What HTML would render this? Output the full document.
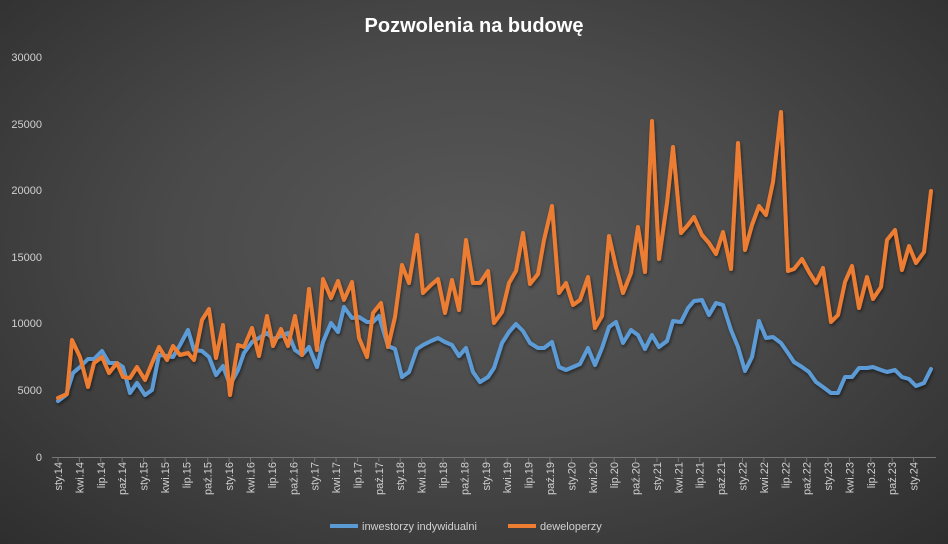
<!DOCTYPE html>
<html><head><meta charset="utf-8"><style>
body{margin:0;}
#c{width:948px;height:544px;position:relative;overflow:hidden;background:radial-gradient(ellipse at 50% 45%,#585858 0%,#4a4a4a 45%,#2e2e2e 100%);font-family:"Liberation Sans",sans-serif;}
</style></head><body><div id="c">
<svg width="948" height="544" xmlns="http://www.w3.org/2000/svg">
<defs><filter id="sh" x="-5%" y="-5%" width="110%" height="110%"><feDropShadow dx="1" dy="2" stdDeviation="1.5" flood-color="#000" flood-opacity="0.5"/></filter></defs>
<text x="474" y="32" fill="#fff" font-size="20" font-weight="bold" text-anchor="middle" font-family="Liberation Sans, sans-serif">Pozwolenia na budowę</text>
<g fill="#d0d0d0" font-size="11" text-anchor="end" font-family="Liberation Sans, sans-serif">
<text x="42" y="61">30000</text><text x="42" y="128">25000</text><text x="42" y="194">20000</text><text x="42" y="261">15000</text><text x="42" y="327">10000</text><text x="42" y="394">5000</text><text x="42" y="461">0</text>
</g>
<line x1="52" y1="457.5" x2="936" y2="457.5" stroke="#777" stroke-width="1"/>
<g id="ticks" stroke="#777"></g>
<g id="xl" fill="#d0d0d0" font-size="11" font-family="Liberation Sans, sans-serif"></g>
<g filter="url(#sh)" fill="none" stroke-width="4" stroke-linejoin="round" stroke-linecap="round">
<polyline stroke="#5b9bd5" points="58,401 66,395 73,373 80,367 88,359 94,359 102,351 109,363 117,363 123,367 130,393 137,383 145,395 152,390 159,355 167,356 173,357 180,345 188,330 194,350 202,351 209,357 216,375 223,366 230,385 238,370 244,353 252,342 259,338 267,333 273,339 281,336 288,333 295,350 302,355 309,347 317,367 323,342 331,323 338,332 344,307 352,318 359,317 367,322 373,322 379,316 388,346 395,349 402,377 409,372 417,349 423,345 431,341 438,338 445,342 452,345 459,356 466,348 473,372 480,382 488,377 494,368 502,343 509,332 516,324 523,331 530,343 538,348 544,348 552,342 559,367 566,370 573,367 580,364 588,348 595,365 602,348 609,327 616,322 623,343 631,330 638,335 645,349 652,335 659,347 667,341 673,321 681,322 688,308 694,301 702,300 709,315 716,303 723,305 731,330 738,347 745,371 752,357 759,321 766,338 773,337 781,343 788,353 794,362 802,367 809,372 816,382 823,387 831,393 838,393 845,377 852,377 859,368 867,368 873,367 881,370 887,372 895,370 902,377 909,379 916,386 924,383 931,369"/>
<polyline stroke="#ed7d31" points="58,398 67,394 72,340 80,357 88,387 94,363 102,357 109,373 117,363 123,377 130,378 137,367 145,380 152,363 159,347 167,360 173,346 180,355 188,353 194,360 202,320 209,309 216,358 223,325 230,395 238,345 244,347 252,328 259,356 267,316 273,346 281,329 288,346 295,316 302,355 309,289 317,350 323,279 331,298 338,281 344,300 352,282 359,338 367,357 373,313 381,303 388,347 395,317 402,265 409,283 417,235 423,293 431,285 438,279 445,313 452,280 459,310 466,240 473,283 480,283 488,271 494,323 502,312 509,283 516,271 523,233 530,284 538,274 544,240 552,206 559,293 566,283 573,305 580,300 588,277 595,328 602,316 609,236 616,267 623,293 631,273 638,227 645,272 652,121 659,259 667,203 673,147 681,233 688,225 694,217 702,235 709,243 716,254 723,232 731,269 738,143 745,250 752,225 759,206 766,215 773,182 781,112 788,271 794,269 802,259 809,272 816,283 823,268 831,322 838,315 845,282 852,266 859,308 867,277 873,299 881,287 887,240 895,230 902,270 909,246 916,263 924,252 931,191"/>
</g>
<line x1="330" y1="526" x2="358" y2="526" stroke="#5b9bd5" stroke-width="4"/>
<text x="362" y="530" fill="#d0d0d0" font-size="11" font-family="Liberation Sans, sans-serif">inwestorzy indywidualni</text>
<line x1="508" y1="526" x2="536" y2="526" stroke="#ed7d31" stroke-width="4"/>
<text x="540" y="530" fill="#d0d0d0" font-size="11" font-family="Liberation Sans, sans-serif">deweloperzy</text>
</svg>
<script>
var m=["sty","kwi","lip","paź"],xl=document.getElementById("xl"),tk=document.getElementById("ticks"),ns="http://www.w3.org/2000/svg";
for(var i=0;i<=40;i++){var x=58+i*3*7.13;var t=document.createElementNS(ns,"text");t.setAttribute("transform","translate("+(x+4)+",462) rotate(-90)");t.setAttribute("text-anchor","end");t.textContent=m[i%4]+"."+(14+Math.floor(i/4));xl.appendChild(t);
var l=document.createElementNS(ns,"line");l.setAttribute("x1",x);l.setAttribute("x2",x);l.setAttribute("y1",457);l.setAttribute("y2",462);tk.appendChild(l);}
</script>
</div></body></html>
